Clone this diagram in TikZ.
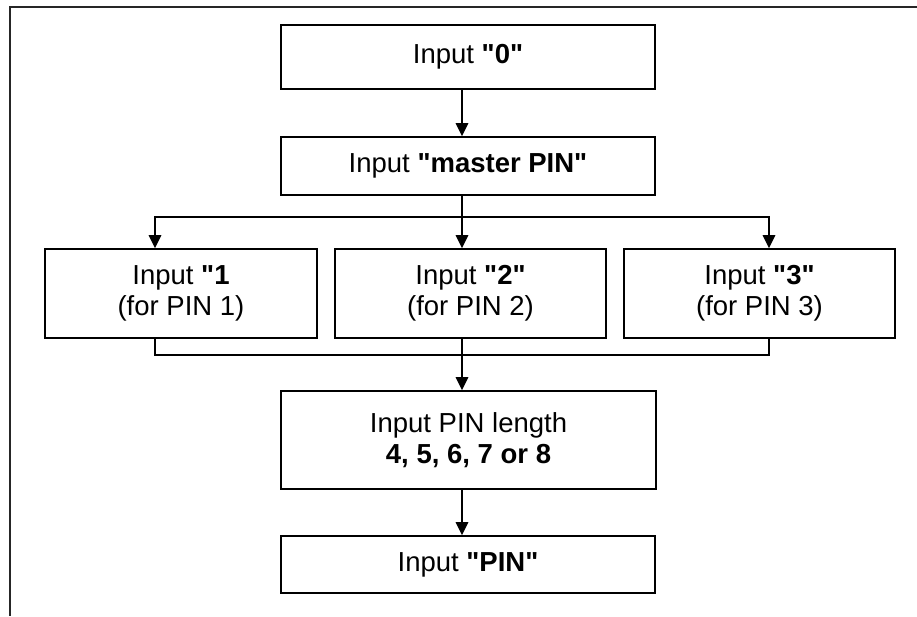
\documentclass[tikz,border=0pt]{standalone}
\usepackage{fontspec}
\setmainfont{Liberation Sans}[Ligatures=TeXOff]
\usetikzlibrary{arrows.meta}
\begin{document}
\begin{tikzpicture}[x=1pt,y=-1pt,
  box/.style={draw=black, line width=1.6pt, fill=white, inner sep=0pt,
    align=center, font=\fontsize{27.5}{31}\selectfont},
  flow/.style={line width=1.5pt, -{Triangle[width=12.5pt,length=13pt]}},
  link/.style={line width=1.5pt},
  frame/.style={line width=2.2pt, draw=black!85}]
  \useasboundingbox (0,0) rectangle (917,616);
  % outer frame
  \coordinate (fr) at (917,7);
  \coordinate (ftl) at (10,7);
  \coordinate (fbl) at (10,616);
  \draw[frame] (fr) -- (ftl) -- (fbl);

  % boxes
  \node[box, minimum width=374pt, minimum height=64pt] (b0) at (468,57)
    {Input \textbf{"0"}};
  \node[box, minimum width=374pt, minimum height=58pt] (b1) at (468,166)
    {Input \textbf{"master PIN"}};
  \node[box, minimum width=272pt, minimum height=89pt] (bA) at (181,293.5)
    {Input \textbf{"1}\\(for PIN 1)};
  \node[box, minimum width=271pt, minimum height=89pt] (bB) at (470.5,293.5)
    {Input \textbf{"2"}\\(for PIN 2)};
  \node[box, minimum width=271pt, minimum height=89pt] (bC) at (759.5,293.5)
    {Input \textbf{"3"}\\(for PIN 3)};
  \node[box, minimum width=375pt, minimum height=98pt] (bD) at (468.5,440)
    {Input PIN length\\\textbf{4, 5, 6, 7 or 8}};
  \node[box, minimum width=374pt, minimum height=57pt] (bP) at (468,564.5)
    {Input \textbf{"PIN"}};

  % connector positions
  \coordinate (split) at (462,217);
  \coordinate (join) at (462,355);
  \coordinate (ax) at (155,0);
  \coordinate (cx) at (769,0);

  % connectors
  \draw[flow] (b0.south -| split) -- (b1.north -| split);
  \draw[link] (b1.south -| split) -- (split);
  \draw[flow] (split) -- (bB.north -| split);
  \draw[flow] (split) -| (bA.north -| ax);
  \draw[flow] (split) -| (bC.north -| cx);
  \draw[link] (bA.south -| ax) |- (join);
  \draw[link] (bC.south -| cx) |- (join);
  \draw[link] (bB.south -| join) -- (join);
  \draw[flow] (join) -- (bD.north -| join);
  \draw[flow] (bD.south -| split) -- (bP.north -| split);
\end{tikzpicture}
\end{document}
